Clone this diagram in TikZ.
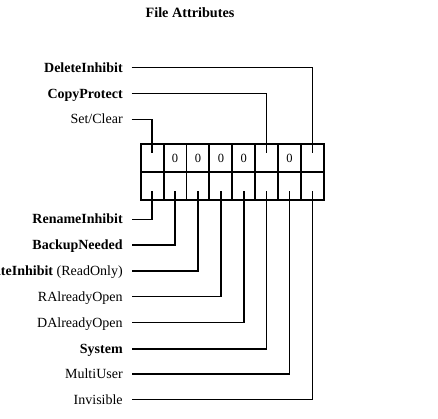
\documentclass[tikz,border=0pt]{standalone}
\usepackage{fontspec}
\setmainfont{Liberation Serif}
\begin{document}
\begin{tikzpicture}[x=1pt,y=-1pt,
  cell/.style={draw,line width=1.9pt,minimum width=22.91pt,minimum height=27.8pt,inner sep=0pt,outer sep=0pt,font=\fontsize{12.5}{12.5}\selectfont},
  lab/.style={anchor=east,inner sep=0pt,outer xsep=9pt,outer ysep=0pt,text height=9.3pt,text depth=0pt,font=\fontsize{14}{14}\selectfont},
  conn/.style={line width=1.5pt},
  ttl/.style={font=\fontsize{14.2}{14}\selectfont\bfseries}]
\fill[white] (0,0) rectangle (438,418);
\useasboundingbox (0,0) rectangle (438,418);
\node[ttl] (title) at (190,13) {File Attributes};
% cells
\foreach \i/\t in {1/,2/0,3/0,4/0,5/0,6/,7/0,8/}{
  \node[cell] (t\i) at ({140.7+22.91*(\i-0.5)},157.9) {\t};
  \node[cell] (b\i) at ({140.7+22.91*(\i-0.5)},185.7) {};
}
% top labels
\node[lab] (di) at (131.7,67.7) {\textbf{DeleteInhibit}};
\node[lab] (cp) at (131.7,93.7) {\textbf{CopyProtect}};
\node[lab] (sc) at (131.7,119.3) {Set/Clear};
\draw[conn] (di.east) -| ([yshift=4.6pt]t8.center);
\draw[conn] (cp.east) -| ([yshift=4.6pt]t6.center);
\draw[conn] (sc.east) -| ([yshift=4.6pt]t1.center);
% bottom labels
\node[lab] (ri) at (131.7,219.3) {\textbf{RenameInhibit}};
\node[lab] (bn) at (131.7,245.1) {\textbf{BackupNeeded}};
\node[lab] (wi) at (131.7,270.8) {\textbf{WriteInhibit} (ReadOnly)};
\node[lab] (ra) at (131.7,296.7) {RAlreadyOpen};
\node[lab] (da) at (131.7,322.7) {DAlreadyOpen};
\node[lab] (sy) at (131.7,349.2) {\textbf{System}};
\node[lab] (mu) at (131.7,373.8) {MultiUser};
\node[lab] (iv) at (131.7,399.5) {Invisible};
\foreach \c/\l in {1/ri,2/bn,3/wi,4/ra,5/da,6/sy,7/mu,8/iv}{
  \draw[conn] ([yshift=-5.6pt]b\c.center) |- (\l.east);
}
\end{tikzpicture}
\end{document}
